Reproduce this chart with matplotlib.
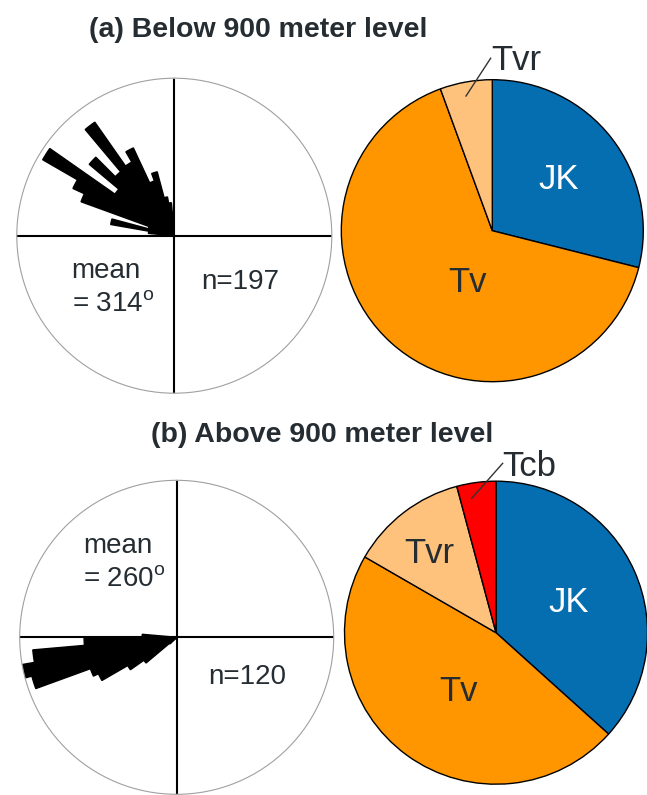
import matplotlib
matplotlib.use('Agg')
import matplotlib.pyplot as plt
import numpy as np

plt.rcParams['font.family'] = ['Liberation Sans', 'DejaVu Sans']
plt.rcParams['mathtext.fontset'] = 'custom'
plt.rcParams['mathtext.rm'] = 'Liberation Sans'

# rose petals: 5 degree bins (start azimuth), length as % of circle radius
bins_a = [270, 275, 280, 285, 290, 295, 300, 305, 310, 315, 320, 325, 330, 335, 340, 345, 350, 355]
len_a = [5, 16.5, 41, 17, 63, 71, 96.5, 46, 70.5, 53, 88, 54, 61.5, 37, 42, 25, 21, 8]
bins_b = [225, 230, 235, 240, 245, 250, 255, 260, 265, 270]
len_b = [6, 25.5, 36, 55, 58.5, 95.5, 100, 92, 59, 22]

units_a = ['JK', 'Tv', 'Tvr']
counts_a = [57, 129, 11]
units_b = ['JK', 'Tv', 'Tvr', 'Tcb']
counts_b = [44, 56, 15, 5]

unit_colors = {'JK': '#046eb0', 'Tv': '#ff9600', 'Tvr': '#ffc27c', 'Tcb': '#ff0000'}
txt = '#252d33'

W, H = 647, 795
fig = plt.figure(figsize=(W / 100, H / 100), dpi=100)


def box(cx, cy, r):
    return [(cx - r) / W, (H - cy - r) / H, 2 * r / W, 2 * r / H]


def ftext(x, y, s, **kw):
    fig.text(x / W, 1 - y / H, s, color=txt, va='baseline', **kw)


def rose(cx, cy, r, bins, lengths):
    ax = fig.add_axes(box(cx, cy, r), projection='polar')
    ax.set_theta_zero_location('N')
    ax.set_theta_direction(-1)
    ax.set_axisbelow(True)
    ax.bar(np.deg2rad(np.array(bins) + 2.5), lengths, width=np.deg2rad(5),
           color='black', edgecolor='black', linewidth=1.0)
    ax.set_ylim(0, 100)
    ax.set_yticks([])
    ax.set_xticks(np.deg2rad([0, 90, 180, 270]))
    ax.set_xticklabels([])
    ax.tick_params(length=0)
    ax.grid(True, color='black', lw=1.5)
    ax.spines['polar'].set_color('#a0a0a0')
    ax.spines['polar'].set_linewidth(0.8)
    return ax


def pie(cx, cy, r, units, counts):
    ax = fig.add_axes(box(cx, cy, r * 1.1))
    ax.pie(counts, colors=[unit_colors[u] for u in units], startangle=90,
           counterclock=False, wedgeprops=dict(edgecolor='black', linewidth=1))
    ax.set_xlim(-1.1, 1.1)
    ax.set_ylim(-1.1, 1.1)
    ax.axis('off')
    return ax


# (a)
ftext(258.3, 36.7, '(a) Below 900 meter level', ha='center', fontsize=20.5,
      fontweight='bold')
rose(174.3, 235.7, 157.5, bins_a, len_a)
ftext(71.7, 278.3, 'mean', fontsize=20)
ftext(71.7, 311.7, r'= 314$^{\mathrm{o}}$', fontsize=20)
ftext(201.7, 289, 'n=197', fontsize=20)

pa = pie(492.3, 230.7, 151, units_a, counts_a)
pa.text(0.442, 0.274, 'JK', color='white', fontsize=25, ha='center', va='baseline')
pa.text(-0.161, -0.404, 'Tv', color=txt, fontsize=25, ha='center', va='baseline')
pa.text(0.157, 1.064, 'Tvr', color=txt, fontsize=25, ha='center', va='baseline')
pa.plot([-0.174, -0.011], [0.892, 1.142], color='#333333', lw=1, clip_on=False)

# (b)
ftext(322.5, 441.7, '(b) Above 900 meter level', ha='center', fontsize=20.5,
      fontweight='bold')
rose(176.7, 637.3, 157, bins_b, len_b)
ftext(83.3, 553.3, 'mean', fontsize=20)
ftext(83.3, 586.7, r'= 260$^{\mathrm{o}}$', fontsize=20)
ftext(208.3, 684, 'n=120', fontsize=20)

pb = pie(496, 632.7, 151.5, units_b, counts_b)
pb.text(0.477, 0.138, 'JK', color='white', fontsize=25, ha='center', va='baseline')
pb.text(-0.249, -0.449, 'Tv', color=txt, fontsize=25, ha='center', va='baseline')
pb.text(-0.438, 0.462, 'Tvr', color=txt, fontsize=25, ha='center', va='baseline')
pb.text(0.22, 1.032, 'Tcb', color=txt, fontsize=25, ha='center', va='baseline')
pb.plot([-0.16, 0.044], [0.887, 1.118], color='#333333', lw=1, clip_on=False)

fig.savefig('out.png', dpi=100)
